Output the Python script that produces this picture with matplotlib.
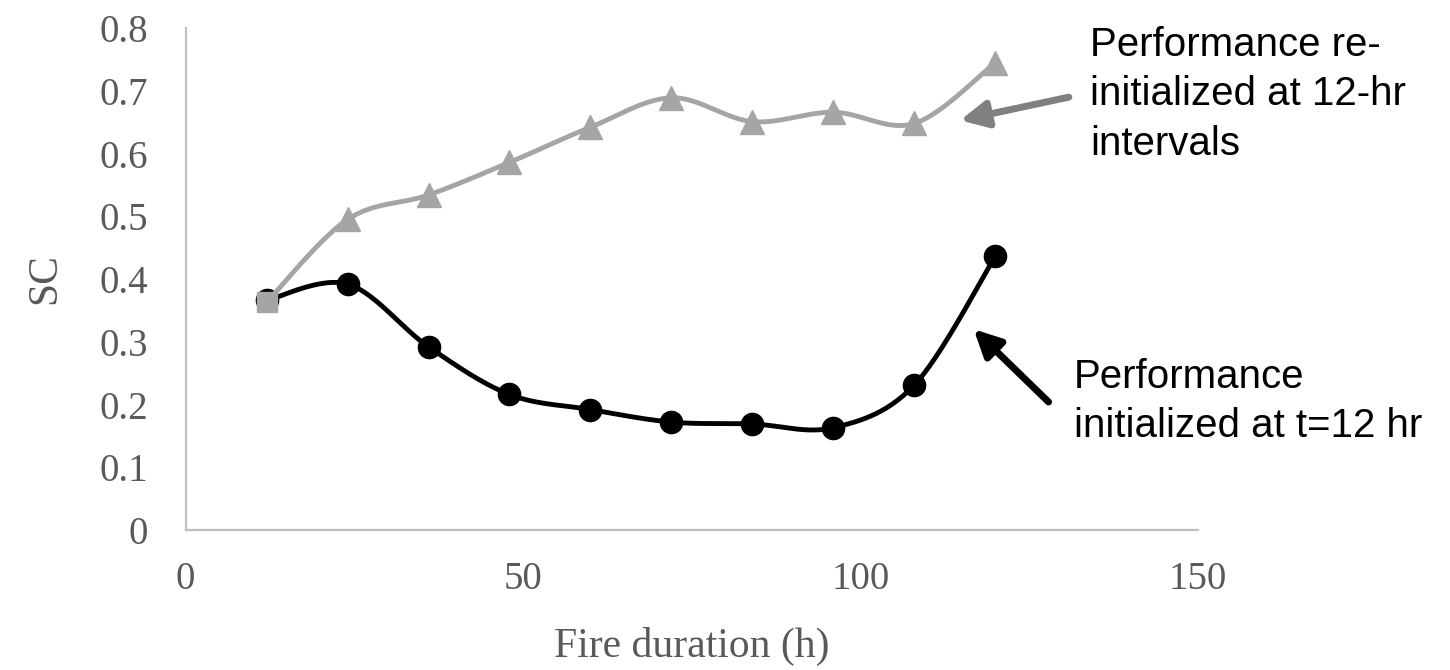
import numpy as np
import matplotlib
matplotlib.use("Agg")
import matplotlib.pyplot as plt

# Data
hours = [12, 24, 36, 48, 60, 72, 84, 96, 108, 120]
sc_reinit = [0.363, 0.495, 0.534, 0.586, 0.642, 0.689, 0.651, 0.666, 0.648, 0.745]
sc_init12 = [0.366, 0.392, 0.292, 0.216, 0.192, 0.172, 0.169, 0.163, 0.231, 0.436]

x_ticks = [0, 50, 100, 150]
y_ticks = [0, 0.1, 0.2, 0.3, 0.4, 0.5, 0.6, 0.7, 0.8]
y_tick_labels = ["0", "0.1", "0.2", "0.3", "0.4", "0.5", "0.6", "0.7", "0.8"]


def smooth(x, y, n=30):
    # Catmull-Rom style cubic Bezier through the points (like Excel's smoothed line)
    x = np.asarray(x, float)
    y = np.asarray(y, float)
    pts = np.column_stack([x, y])
    out = []
    t = np.linspace(0, 1, n)
    for i in range(len(pts) - 1):
        p0 = pts[max(i - 1, 0)]
        p1 = pts[i]
        p2 = pts[i + 1]
        p3 = pts[min(i + 2, len(pts) - 1)]
        c1 = p1 + (p2 - p0) / 6.0
        c2 = p2 - (p3 - p1) / 6.0
        seg = ((1 - t) ** 3)[:, None] * p1 + (3 * (1 - t) ** 2 * t)[:, None] * c1 \
            + (3 * (1 - t) * t ** 2)[:, None] * c2 + (t ** 3)[:, None] * p2
        out.append(seg if i == 0 else seg[1:])
    out = np.vstack(out)
    return out[:, 0], out[:, 1]


fig = plt.figure(figsize=(14.5, 6.7), dpi=100)
ax = fig.add_axes([0.128, 0.209, 0.698, 0.749])

serif = "Liberation Serif"
tick_grey = "#595959"
line_grey = "#A5A5A5"

# black series: initialized at t=12 hr
sx, sy = smooth(hours, sc_init12)
ax.plot(sx, sy, color="black", lw=3.5, zorder=3)
ax.plot(hours, sc_init12, "o", color="black", ms=16, zorder=4)

# grey series: re-initialized every 12 hr
gx, gy = smooth(hours, sc_reinit)
ax.plot(gx, gy, color=line_grey, lw=3.5, zorder=5)
ax.plot(hours[1:], sc_reinit[1:], "^", color=line_grey, ms=17, zorder=6)
ax.plot(hours[:1], sc_reinit[:1], "s", color=line_grey, ms=14, zorder=6)

ax.set_xlim(0, 150)
ax.set_ylim(0, 0.8)
ax.set_xticks(x_ticks)
ax.set_xticklabels([str(v) for v in x_ticks])
ax.set_yticks(y_ticks)
ax.set_yticklabels(y_tick_labels)

for s in ["top", "right"]:
    ax.spines[s].set_visible(False)
for s in ["left", "bottom"]:
    ax.spines[s].set_color("#BFBFBF")
    ax.spines[s].set_linewidth(1.6)

ax.tick_params(axis="both", length=0, colors=tick_grey, labelsize=28)
ax.tick_params(axis="y", pad=27)
ax.tick_params(axis="x", pad=22)
for lab in ax.get_xticklabels() + ax.get_yticklabels():
    lab.set_fontfamily(serif)

ax.set_xlabel("Fire duration (h)", fontsize=30, family=serif, color=tick_grey, va="center")
ax.xaxis.set_label_coords(0.5, -0.233)
ax.set_ylabel("SC", fontsize=30, family=serif, color=tick_grey, va="center")
ax.yaxis.set_label_coords(-0.139, 0.5)

# annotations
ax.annotate("", xy=(114.8, 0.653), xytext=(130.9, 0.690),
            arrowprops=dict(arrowstyle="-|>", color="#808080", lw=5, mutation_scale=40,
                            shrinkA=0, shrinkB=0),
            annotation_clip=False)
ax.annotate("", xy=(116.8, 0.320), xytext=(127.9, 0.204),
            arrowprops=dict(arrowstyle="-|>", color="black", lw=5, mutation_scale=40,
                            shrinkA=0, shrinkB=0),
            annotation_clip=False)

ax.text(134.1, 0.598, "Performance re-\ninitialized at 12-hr\nintervals",
        family="Liberation Sans", fontsize=29, va="baseline", ha="left",
        linespacing=1.38, clip_on=False)
ax.text(131.6, 0.148, "Performance\ninitialized at t=12 hr",
        family="Liberation Sans", fontsize=29, va="baseline", ha="left",
        linespacing=1.38, clip_on=False)

fig.savefig("out.png", dpi=100)
